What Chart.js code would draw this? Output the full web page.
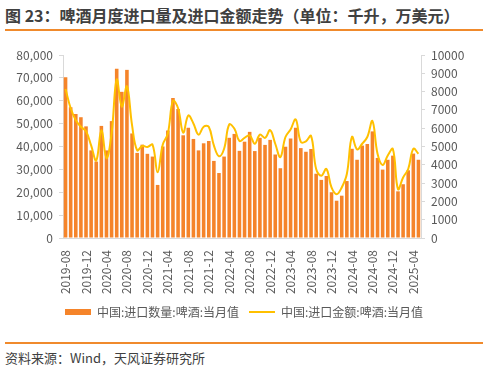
<!DOCTYPE html>
<html>
<head>
<meta charset="utf-8">
<script src="https://cdn.jsdelivr.net/npm/chart.js@4"></script>
<style>
  body { margin: 0; background: #fff; width: 488px; height: 372px; position: relative; overflow: hidden;
         font-family: "Noto Sans CJK SC", "Noto Sans", sans-serif; }
  #title { position: absolute; left: 5px; top: 3px; font-size: 16px; font-weight: bold; color: #404040; white-space: nowrap; }
  .rule { position: absolute; left: 5px; width: 478px; height: 2px; background: #F08A2C; }
  #box { position: absolute; left: 0; top: 35px; width: 488px; height: 300px; }
  #source { position: absolute; left: 5px; top: 348px; font-size: 13px; color: #404040; white-space: nowrap; }
</style>
</head>
<body>
<div id="title">图 23：啤酒月度进口量及进口金额走势（单位：千升，万美元）</div>
<div class="rule" style="top:29px"></div>
<div id="box"><canvas id="chart"></canvas></div>
<div class="rule" style="top:342px"></div>
<div id="source">资料来源：Wind，天风证券研究所</div>
<script>
// months 2019-08 .. 2025-05
var months = [];
for (var y = 2019, m = 8; months.length < 70; m++) {
    if (m > 12) { m = 1; y++; }
    months.push(y + "-" + (m < 10 ? "0" + m : m));
}

// 进口数量 (千升)
var volume = [
    70300, 57200, 54200, 52800, 48800, 38300, 33400, 49000, 38300, 51100,
    74000, 63900, 73500, 45700, 37200, 40800, 36800, 35600, 23200, 40000,
    47000, 61200, 56400, 44900, 48200, 43300, 38300, 41400, 42400, 33700,
    28400, 35600, 43800, 45500, 38100, 42100, 46400, 38000, 43800, 40700,
    42900, 36500, 30500, 39900, 43500, 48200, 39300, 37700, 38900, 28100,
    25400, 27100, 20000, 16300, 18500, 24900, 39000, 34200, 40400, 41100,
    46600, 35000, 29900, 34200, 36000, 20400, 23500, 29600, 36900, 34200
];

// 进口金额 (万美元)
var amount = [
    8140, 7090, 6440, 6080, 5830, 5060, 4230, 5890, 4360, 5710,
    8660, 7180, 8290, 6170, 4790, 5030, 4970, 5100, 3590, 5100,
    5710, 7490, 7090, 5760, 6690, 6260, 5650, 6080, 6080, 5060,
    4470, 4880, 6200, 5980, 5300, 5470, 5610, 5150, 5650, 5470,
    5890, 5150, 4420, 5520, 5930, 6480, 5250, 5280, 5580, 3770,
    3400, 3770, 2760, 2390, 2760, 3500, 5520, 4840, 5150, 5520,
    6390, 4600, 3990, 4510, 4860, 2670, 3310, 3770, 4880, 4600
];

var seriesNames = ["中国:进口数量:啤酒:当月值", "中国:进口金额:啤酒:当月值"];

var tickFont = { family: "'Noto Sans CJK SC', 'Noto Sans', sans-serif", size: 12 };
var ctx = document.getElementById("chart").getContext("2d");
var myChart = new Chart(ctx, {
    data: {
        labels: months,
        datasets: [
            {
                type: "bar",
                label: seriesNames[0],
                data: volume,
                yAxisID: "y",
                backgroundColor: "#F5842A",
                barPercentage: 0.7,
                categoryPercentage: 1,
                order: 1,
            },
            {
                type: "line",
                label: seriesNames[1],
                data: amount,
                yAxisID: "y1",
                borderColor: "#FFC000",
                backgroundColor: "#FFC000",
                borderWidth: 2,
                pointRadius: 0,
                tension: 0.4,
                order: 0,
            },
        ],
    },
    options: {
        responsive: true,
        maintainAspectRatio: false,
        animation: false,
        layout: { padding: { top: 20, bottom: 7, left: 0, right: 0 } },
        scales: {
            x: {
                offset: true,
                grid: { display: false },
                border: { color: "#d9d9d9" },
                ticks: {
                    autoSkip: false,
                    minRotation: 90,
                    maxRotation: 90,
                    padding: 4,
                    color: "#595959",
                    font: tickFont,
                    callback: function (v, i) { return i % 4 === 0 ? months[i] : ""; },
                },
                afterFit: function (s) { s.height = 58; },
            },
            y: {
                position: "left",
                min: 0,
                max: 80000,
                grid: { drawOnChartArea: false, tickLength: 4, color: "#d9d9d9" },
                border: { color: "#d9d9d9" },
                ticks: {
                    stepSize: 10000,
                    padding: 6,
                    color: "#595959",
                    font: tickFont,
                    callback: function (v) { return v.toLocaleString("en-US"); },
                },
                afterFit: function (s) { s.width = 63; },
            },
            y1: {
                position: "right",
                min: 0,
                max: 10000,
                grid: { drawOnChartArea: false, tickLength: 4, color: "#d9d9d9" },
                border: { color: "#d9d9d9" },
                ticks: {
                    stepSize: 1000,
                    padding: 6,
                    color: "#595959",
                    font: tickFont,
                    callback: function (v) { return String(v); },
                },
                afterFit: function (s) { s.width = 67; },
            },
        },
        plugins: {
            tooltip: { enabled: false },
            legend: {
                position: "bottom",
                labels: {
                    usePointStyle: true,
                    pointStyleWidth: 26,
                    boxHeight: 6,
                    padding: 10,
                    color: "#595959",
                    font: tickFont,
                    sort: function (a, b) { return a.datasetIndex - b.datasetIndex; },
                    generateLabels: function (chart) {
                        var items = Chart.defaults.plugins.legend.labels.generateLabels(chart);
                        items.forEach(function (it) {
                            it.pointStyle = it.datasetIndex === 0 ? "rect" : "line";
                        });
                        return items;
                    },
                },
            },
        },
    },
});
</script>
</body>
</html>
